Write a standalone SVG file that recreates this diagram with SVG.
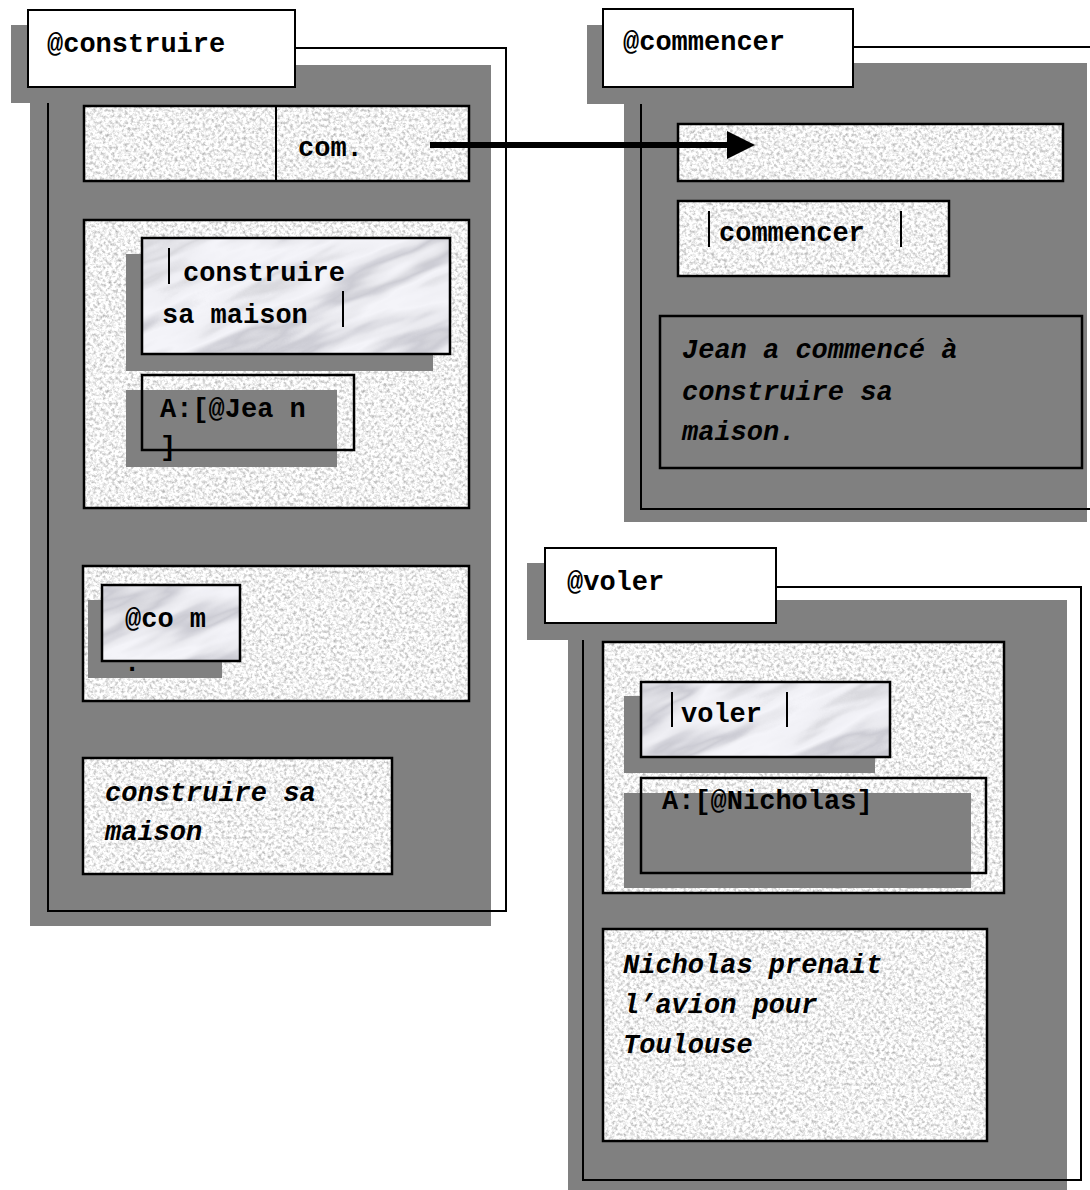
<svg xmlns="http://www.w3.org/2000/svg" width="1090" height="1190" viewBox="0 0 1090 1190">
  <defs>
    <!-- fine granite grain for the light panels -->
    <filter id="grainF" x="0" y="0" width="100%" height="100%" color-interpolation-filters="sRGB">
      <feTurbulence type="fractalNoise" baseFrequency="0.32" numOctaves="3" seed="7" stitchTiles="stitch"/>
      <feColorMatrix type="matrix" values="0.65 0 0 0 0.62  0.65 0 0 0 0.62  0.65 0 0 0 0.62  0 0 0 0 1"/>
    </filter>
    <!-- soft veined marble for the inner tiles -->
    <filter id="marbleF" x="0" y="0" width="100%" height="100%" color-interpolation-filters="sRGB">
      <feTurbulence type="fractalNoise" baseFrequency="0.006 0.022" numOctaves="4" seed="11" stitchTiles="stitch"/>
      <feColorMatrix type="matrix" values="1 0 0 0 0  1 0 0 0 0  1 0 0 0 0  0 0 0 0 1"/>
      <feComponentTransfer>
        <feFuncR type="table" tableValues="0.97 0.95 0.9 0.8 0.91 0.96 0.94 0.85 0.94 0.97"/>
        <feFuncG type="table" tableValues="0.97 0.95 0.9 0.8 0.91 0.96 0.94 0.85 0.94 0.97"/>
        <feFuncB type="table" tableValues="0.99 0.97 0.92 0.83 0.93 0.98 0.96 0.87 0.96 0.99"/>
      </feComponentTransfer>
    </filter>
    <pattern id="granite" patternUnits="userSpaceOnUse" width="256" height="256">
      <rect width="256" height="256" fill="#fff" filter="url(#grainF)"/>
    </pattern>
    <pattern id="marble" patternUnits="userSpaceOnUse" width="400" height="300" patternTransform="rotate(-22)">
      <rect width="400" height="300" fill="#fff" filter="url(#marbleF)"/>
    </pattern>
    <marker id="arrowHead" markerUnits="userSpaceOnUse" markerWidth="28" markerHeight="28" refX="0" refY="14" orient="auto">
      <path d="M0,0 L28,14 L0,28 Z" fill="#000"/>
    </marker>
    <style>
      .shade{fill:#808080}
      .frame{fill:none;stroke:#000;stroke-width:2}
      .head{fill:#fff;stroke:#000;stroke-width:2}
      .granite{fill:url(#granite);stroke:#000;stroke-width:2.5}
      .marble{fill:url(#marble);stroke:#000;stroke-width:2.5}
      .outline{fill:none;stroke:#000;stroke-width:2.5}
      .bar{stroke:#000;stroke-width:2}
      .t{font-family:"Liberation Mono","Courier New",monospace;font-weight:bold;font-size:27px;fill:#000}
      .i{font-style:italic}
      .link{stroke:#000;stroke-width:6;fill:none}
    </style>
  </defs>

  <rect width="1090" height="1190" fill="#fff"/>

  <!-- @construire -->
  <g id="construire">
    <rect class="shade" x="30" y="65" width="461" height="861"/>
    <rect class="frame" x="48" y="48" width="458" height="863"/>
    <g id="construire-header">
      <rect class="shade" x="11" y="25" width="279" height="78"/>
      <rect class="head" x="28" y="10" width="267" height="77"/>
      <text class="t" x="47" y="52">@construire</text>
    </g>
    <g id="construire-com">
      <rect class="granite" x="84" y="106" width="385" height="75"/>
      <line class="bar" x1="276" y1="106" x2="276" y2="181"/>
      <text class="t" x="298" y="156">com.</text>
    </g>
    <g id="construire-sense">
      <rect class="granite" x="84" y="220" width="385" height="288"/>
      <g id="construire-lex">
        <rect class="shade" x="126" y="254" width="307" height="117"/>
        <rect class="marble" x="142" y="238" width="308" height="116"/>
        <line class="bar" x1="169" y1="248" x2="169" y2="284"/>
        <text class="t" x="183" y="281">construire</text>
        <text class="t" x="162" y="323">sa maison</text>
        <line class="bar" x1="343" y1="291" x2="343" y2="327"/>
      </g>
      <g id="construire-agent">
        <rect class="shade" x="126" y="390" width="211" height="77"/>
        <rect class="outline" x="142" y="375" width="212" height="75"/>
        <text class="t" x="160" y="417">A:[@Jea n</text>
        <text class="t" x="160" y="455">]</text>
      </g>
    </g>
    <g id="construire-ref">
      <rect class="granite" x="83" y="566" width="386" height="135"/>
      <rect class="shade" x="88" y="600" width="134" height="78"/>
      <rect class="marble" x="102" y="585" width="138" height="76"/>
      <text class="t" x="125" y="627">@co m</text>
      <text class="t" x="124" y="671">.</text>
    </g>
    <g id="construire-example">
      <rect class="granite" x="83" y="758" width="309" height="116"/>
      <text class="t i" x="105" y="801">construire sa</text>
      <text class="t i" x="105" y="840">maison</text>
    </g>
  </g>

  <!-- @commencer -->
  <g id="commencer">
    <rect class="shade" x="624" y="63" width="463" height="459"/>
    <rect class="frame" x="641" y="47" width="460" height="462"/>
    <g id="commencer-header">
      <rect class="shade" x="587" y="25" width="260" height="79"/>
      <rect class="head" x="603" y="9" width="250" height="78"/>
      <text class="t" x="623" y="50">@commencer</text>
    </g>
    <g id="commencer-slot">
      <rect class="granite" x="678" y="124" width="385" height="57"/>
    </g>
    <g id="commencer-lex">
      <rect class="granite" x="678" y="201" width="271" height="75"/>
      <line class="bar" x1="709" y1="211" x2="709" y2="247"/>
      <text class="t" x="719" y="241">commencer</text>
      <line class="bar" x1="901" y1="211" x2="901" y2="247"/>
    </g>
    <g id="commencer-example">
      <rect class="outline" x="660" y="316" width="422" height="152"/>
      <text class="t i" x="682" y="358">Jean a commencé à</text>
      <text class="t i" x="682" y="400">construire sa</text>
      <text class="t i" x="682" y="440">maison.</text>
    </g>
  </g>

  <!-- @voler -->
  <g id="voler">
    <rect class="shade" x="568" y="600" width="499" height="590"/>
    <rect class="frame" x="583" y="587" width="498" height="593"/>
    <g id="voler-header">
      <rect class="shade" x="527" y="563" width="240" height="77"/>
      <rect class="head" x="545" y="548" width="231" height="75"/>
      <text class="t" x="567" y="590">@voler</text>
    </g>
    <g id="voler-sense">
      <rect class="granite" x="603" y="642" width="401" height="251"/>
      <g id="voler-lex">
        <rect class="shade" x="624" y="696" width="251" height="77"/>
        <rect class="marble" x="641" y="682" width="249" height="75"/>
        <line class="bar" x1="672" y1="692" x2="672" y2="727"/>
        <text class="t" x="681" y="722">voler</text>
        <line class="bar" x1="787" y1="692" x2="787" y2="727"/>
      </g>
      <g id="voler-agent">
        <rect class="shade" x="624" y="793" width="347" height="95"/>
        <rect class="outline" x="641" y="778" width="345" height="95"/>
        <text class="t" x="662" y="809">A:[@Nicholas]</text>
      </g>
    </g>
    <g id="voler-example">
      <rect class="granite" x="603" y="929" width="384" height="212"/>
      <text class="t i" x="623" y="973">Nicholas prenait</text>
      <text class="t i" x="623" y="1013">l’avion pour</text>
      <text class="t i" x="623" y="1053">Toulouse</text>
    </g>
  </g>

  <!-- links between frames -->
  <g id="connectors">
    <line class="link" x1="430" y1="145" x2="727" y2="145" marker-end="url(#arrowHead)"/>
  </g>
</svg>
